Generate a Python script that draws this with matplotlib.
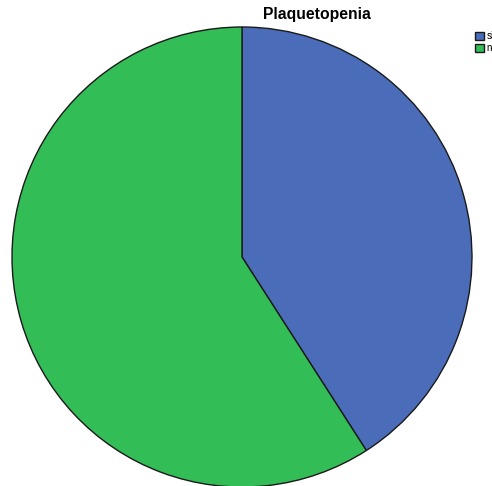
import matplotlib.pyplot as plt

# Plaquetopenia counts (about 41% / 59%)
categories = ["si", "no"]
counts = [9, 13]
colors = ["#4a6cb9", "#33bd56"]

fig = plt.figure(figsize=(4.92, 4.86), dpi=100)
ax = fig.add_axes([0, 0, 1, 1])
ax.set_aspect("equal")
ax.axis("off")

wedges, _ = ax.pie(counts, colors=colors, startangle=90, counterclock=False,
                   radius=230, center=(242, 229),
                   wedgeprops=dict(edgecolor="#1a1a1a", linewidth=1.0))
ax.set_xlim(0, 492)
ax.set_ylim(0, 486)

fig.text(317 / 492, 1 - 15 / 486, "Plaquetopenia", fontsize=11.3,
         fontweight="bold", family="Liberation Sans", ha="center", va="center")

fig.legend(wedges, categories, loc="upper left",
           bbox_to_anchor=(475 / 492, 1 - 31 / 486), bbox_transform=fig.transFigure,
           frameon=False, prop={"family": "Liberation Sans", "size": 7},
           handlelength=0.9, handleheight=0.9, handletextpad=0.3,
           labelspacing=0.25, borderpad=0, borderaxespad=0)

plt.savefig("out.png", dpi=100)
